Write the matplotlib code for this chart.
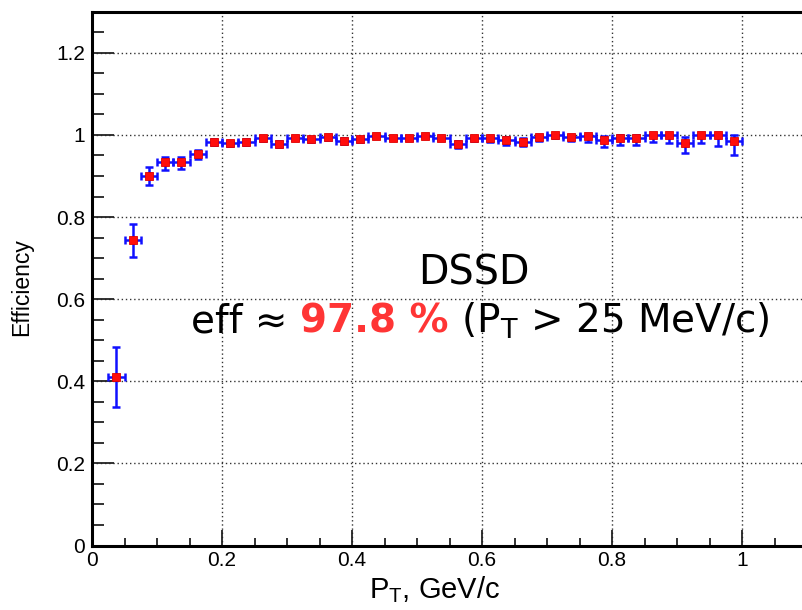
import matplotlib
matplotlib.use("Agg")
import matplotlib.pyplot as plt
from matplotlib.ticker import MultipleLocator, FixedLocator, FixedFormatter

# Transverse-momentum bin centres (GeV/c) and half bin width
pt = [0.0375, 0.0625, 0.0875, 0.1125, 0.1375, 0.1625, 0.1875, 0.2125, 0.2375, 0.2625,
      0.2875, 0.3125, 0.3375, 0.3625, 0.3875, 0.4125, 0.4375, 0.4625, 0.4875, 0.5125,
      0.5375, 0.5625, 0.5875, 0.6125, 0.6375, 0.6625, 0.6875, 0.7125, 0.7375, 0.7625,
      0.7875, 0.8125, 0.8375, 0.8625, 0.8875, 0.9125, 0.9375, 0.9625, 0.9875]
bin_half_width = 0.0125

# Reconstruction efficiency per bin with asymmetric uncertainties
eff = [0.411, 0.744, 0.901, 0.933, 0.934, 0.954, 0.984, 0.980, 0.983, 0.993,
       0.979, 0.993, 0.990, 0.994, 0.986, 0.990, 0.998, 0.993, 0.993, 0.998,
       0.993, 0.977, 0.993, 0.993, 0.988, 0.984, 0.996, 1.000, 0.996, 0.997,
       0.988, 0.993, 0.993, 1.000, 1.000, 0.981, 1.000, 1.000, 0.986]
err_low = [0.073, 0.042, 0.024, 0.018, 0.016, 0.012, 0.008, 0.007, 0.008, 0.007,
           0.008, 0.006, 0.007, 0.006, 0.007, 0.006, 0.005, 0.006, 0.006, 0.005,
           0.006, 0.009, 0.007, 0.010, 0.012, 0.011, 0.010, 0.007, 0.010, 0.014,
           0.017, 0.017, 0.018, 0.016, 0.020, 0.026, 0.020, 0.026, 0.035]
err_high = [0.073, 0.038, 0.022, 0.014, 0.013, 0.010, 0.006, 0.006, 0.006, 0.005,
            0.007, 0.005, 0.005, 0.004, 0.006, 0.005, 0.002, 0.004, 0.004, 0.002,
            0.004, 0.008, 0.005, 0.005, 0.008, 0.008, 0.004, 0.000, 0.004, 0.003,
            0.009, 0.007, 0.007, 0.000, 0.000, 0.013, 0.000, 0.000, 0.014]

x_ticks = [0, 0.2, 0.4, 0.6, 0.8, 1.0]
x_tick_labels = ["0", "0.2", "0.4", "0.6", "0.8", "1"]
y_ticks = [0, 0.2, 0.4, 0.6, 0.8, 1.0, 1.2]
y_tick_labels = ["0", "0.2", "0.4", "0.6", "0.8", "1", "1.2"]

mean_eff_label = "97.8 %"

plt.rcParams["mathtext.fontset"] = "dejavusans"

W, H = 802, 610
fig = plt.figure(figsize=(W / 100, H / 100), dpi=100)
ax = fig.add_axes([92 / W, 64.5 / H, 715 / W, 533.7 / H])
ax.set_xlim(0, 1.1)
ax.set_ylim(0, 1.3)

ax.errorbar(pt, eff, yerr=[err_low, err_high], xerr=bin_half_width,
            fmt="none", ecolor="#1010ff", elinewidth=1.8, capsize=3.2,
            capthick=1.8, zorder=3)
ax.plot(pt, eff, linestyle="none", marker="s", markersize=6.0,
        markerfacecolor="#ff0d0d", markeredgecolor="#e00000",
        markeredgewidth=0.6, zorder=4)

# Frame: thick left/bottom/top, no right side
for side in ("left", "bottom", "top"):
    ax.spines[side].set_linewidth(2.2)
    ax.spines[side].set_color("black")
ax.spines["right"].set_visible(False)

ax.xaxis.set_major_locator(FixedLocator(x_ticks))
ax.xaxis.set_major_formatter(FixedFormatter(x_tick_labels))
ax.yaxis.set_major_locator(FixedLocator(y_ticks))
ax.yaxis.set_major_formatter(FixedFormatter(y_tick_labels))
ax.xaxis.set_minor_locator(MultipleLocator(0.05))
ax.yaxis.set_minor_locator(MultipleLocator(0.05))

ax.tick_params(which="both", direction="in", top=False, right=False,
               color="#222222", width=1.3)
ax.tick_params(axis="x", which="major", length=11.5, pad=4)
ax.tick_params(axis="x", which="minor", length=5.8)
ax.tick_params(axis="y", which="major", length=15.8, pad=5)
ax.tick_params(axis="y", which="minor", length=8.6)
for lab in ax.get_xticklabels() + ax.get_yticklabels():
    lab.set_fontfamily("Liberation Sans")
    lab.set_fontsize(15)

ax.grid(True, which="major", linestyle=(0, (1, 2)), color="#333333", linewidth=1.0)
ax.set_axisbelow(True)

ax.set_xlabel(r"P$_\mathregular{T}$, GeV/c", fontfamily="Liberation Sans",
              fontsize=21, ha="center", va="center")
ax.xaxis.set_label_coords((435 - 92) / 715, -(590 - 545.5) / 533.7)
ax.set_ylabel("Efficiency", fontfamily="Liberation Sans", fontsize=16.5,
              ha="center", va="center")
ax.yaxis.set_label_coords((22 - 92) / 715, (545.5 - 287) / 533.7)

# Annotation
ax.text(0.588, 0.635, "DSSD", fontfamily="DejaVu Sans", fontsize=28.5,
        ha="center", va="baseline")

pieces = [("eff \u2248 ", "black", "normal"),
          (mean_eff_label, "#ff3535", "bold"),
          (r" (P$_\mathregular{T}$ > 25 MeV/c)", "black", "normal")]
texts = [ax.text(0, 0.518, s, fontfamily="DejaVu Sans", fontsize=28, color=c,
                 fontweight=w, ha="left", va="baseline") for s, c, w in pieces]
fig.canvas.draw()
renderer = fig.canvas.get_renderer()
widths = [t.get_window_extent(renderer).width for t in texts]
cx, by = ax.transData.transform((0.597, 0.518))
start = cx - sum(widths) / 2
inv = ax.transData.inverted()
for t, w in zip(texts, widths):
    t.set_position(inv.transform((start, by)))
    start += w

fig.savefig("out.png", dpi=100)
